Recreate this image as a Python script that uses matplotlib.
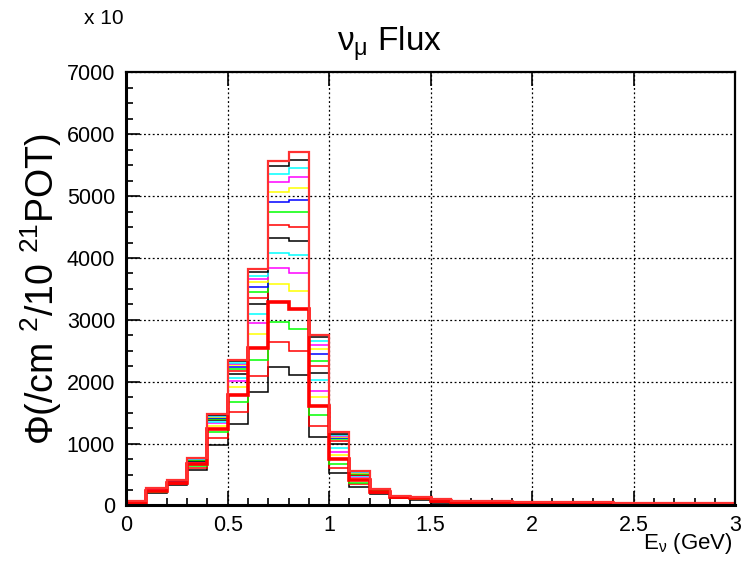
import numpy as np
import matplotlib
matplotlib.use("Agg")
import matplotlib.pyplot as plt
from matplotlib.ticker import MultipleLocator

plt.rcParams['font.family'] = ['Liberation Sans', 'DejaVu Sans']
plt.rcParams['mathtext.fontset'] = 'custom'
plt.rcParams['mathtext.rm'] = 'Liberation Sans'
plt.rcParams['mathtext.it'] = 'Liberation Sans'

# --- data: bin edges (GeV) and flux per bin, 16 curves listed bottom -> top ---
bin_edges = np.round(np.arange(0, 3.01, 0.1), 2)

flux_by_bin = [
    [26, 30, 34, 40, 44, 47, 50, 53, 56, 59, 62, 64, 66, 69, 71, 74],                          # 0.0
    [198, 210, 222, 232, 240, 246, 251, 255, 259, 263, 266, 269, 272, 275, 277, 279],          # 0.1
    [333, 345, 356, 366, 374, 381, 387, 392, 396, 400, 403, 406, 408, 410, 412, 414],          # 0.2
    [575, 610, 640, 665, 685, 700, 712, 722, 730, 737, 743, 748, 752, 756, 760, 764],          # 0.3
    [979, 1097, 1184, 1237, 1286, 1329, 1356, 1375, 1390, 1405, 1418, 1430, 1441, 1452, 1465, 1480],
    [1313, 1507, 1679, 1792, 1921, 2008, 2067, 2126, 2180, 2212, 2244, 2266, 2288, 2309, 2331, 2352],
    [1840, 2095, 2352, 2551, 2772, 2945, 3097, 3252, 3359, 3446, 3536, 3607, 3666, 3714, 3779, 3822],
    [2244, 2638, 2971, 3290, 3580, 3843, 4086, 4323, 4538, 4738, 4910, 5066, 5223, 5352, 5481, 5567],
    [2110, 2503, 2853, 3171, 3472, 3753, 4043, 4280, 4496, 4738, 4932, 5131, 5304, 5459, 5588, 5717],
    [1100, 1280, 1464, 1605, 1746, 1856, 2020, 2140, 2250, 2338, 2455, 2530, 2600, 2664, 2729, 2756],
    [521, 603, 672, 748, 817, 871, 926, 1000, 1044, 1071, 1092, 1103, 1119, 1136, 1157, 1184],
    [306, 340, 370, 414, 441, 460, 475, 490, 500, 510, 520, 528, 536, 545, 555, 564],
    [187, 200, 212, 222, 230, 237, 243, 248, 252, 255, 258, 261, 263, 265, 266, 268],
    [118, 124, 129, 133, 136, 139, 141, 143, 145, 147, 148, 150, 151, 152, 154, 155],
    [90, 100, 108, 114, 119, 123, 127, 130, 133, 135, 137, 139, 140, 142, 143, 144],
    [47, 60, 70, 78, 84, 88, 92, 95, 97, 99, 101, 102, 104, 105, 106, 107],
    [37, 45, 52, 57, 61, 64, 67, 69, 71, 73, 74, 75, 76, 77, 78, 79],
    [37, 45, 51, 56, 60, 63, 66, 68, 70, 72, 73, 74, 75, 76, 78, 79],
    [36, 44, 50, 55, 59, 62, 65, 67, 69, 71, 72, 73, 74, 76, 77, 78],
    [21, 26, 30, 34, 37, 40, 42, 44, 46, 47, 48, 49, 50, 51, 52, 53],
    [21, 26, 30, 34, 37, 40, 42, 44, 46, 47, 48, 49, 50, 51, 52, 53],
    [21, 26, 30, 34, 37, 40, 42, 44, 46, 47, 48, 49, 50, 51, 52, 53],
    [21, 26, 30, 34, 37, 40, 42, 44, 46, 47, 48, 49, 50, 51, 52, 53],
    [20, 25, 29, 33, 36, 39, 41, 43, 45, 46, 47, 48, 49, 50, 51, 52],
    [12, 16, 19, 22, 24, 26, 28, 29, 30, 31, 32, 33, 34, 35, 36, 37],
    [12, 16, 19, 22, 24, 26, 28, 29, 30, 31, 32, 33, 34, 35, 36, 37],
    [12, 16, 19, 22, 24, 26, 28, 29, 30, 31, 32, 33, 34, 35, 36, 37],
    [12, 16, 19, 22, 24, 26, 28, 29, 30, 31, 32, 33, 34, 35, 36, 37],
    [12, 16, 19, 22, 24, 26, 28, 29, 30, 31, 32, 33, 34, 35, 36, 37],
    [12, 16, 19, 22, 24, 26, 28, 29, 30, 31, 32, 33, 34, 35, 36, 37],
]

curve_colors = ['#000000', '#ff0000', '#00ff00', '#ff0000', '#ffff00', '#ff00ff', '#00ffff',
                '#000000', '#ff0000', '#00ff00', '#0000ff', '#ffff00', '#ff00ff', '#00ffff',
                '#000000', '#ff3030']
thick_idx = 3   # highlighted curve
top_idx = 15

flux = np.array(flux_by_bin).T   # rows = curves

# --- figure ---
fig = plt.figure(figsize=(7.42, 5.61), dpi=100)
ax = fig.add_axes([0.170, 0.099, 0.8208, 0.772])

ax.grid(True, which='major', color='black', linestyle=(0, (1.5, 2)), linewidth=0.9)
ax.set_axisbelow(True)

for i, vals in enumerate(flux):
    if i in (thick_idx, top_idx):
        continue
    ax.stairs(vals, bin_edges, color=curve_colors[i], linewidth=1.1, baseline=None)
ax.stairs(flux[thick_idx], bin_edges, color='#ff0000', linewidth=2.6, baseline=None)
ax.stairs(flux[top_idx], bin_edges, color=curve_colors[top_idx], linewidth=1.6, baseline=None)

ax.set_xlim(0, 3)
ax.set_ylim(0, 7000)
ax.xaxis.set_major_locator(MultipleLocator(0.5))
ax.xaxis.set_minor_locator(MultipleLocator(0.1))
ax.yaxis.set_major_locator(MultipleLocator(1000))
ax.yaxis.set_minor_locator(MultipleLocator(250))
ax.xaxis.set_major_formatter(plt.FuncFormatter(lambda v, p: f'{v:g}'))

ax.tick_params(axis='both', which='both', direction='in', colors='black', labelsize=15.5)
ax.tick_params(axis='x', which='major', length=10, width=1.2, top=True, pad=7)
ax.tick_params(axis='x', which='minor', length=5, width=1.2)
ax.tick_params(axis='y', which='major', length=10, width=1.2, pad=8)
ax.tick_params(axis='y', which='minor', length=5, width=1.2)

for side in ('left', 'bottom'):
    ax.spines[side].set_linewidth(2.2)
for side in ('top', 'right'):
    ax.spines[side].set_linewidth(1.6)

ax.set_ylabel('Φ(/cm $^{2}$/10 $^{21}$POT)', fontsize=27, labelpad=2)
fig.text(733 / 742, 1 - 543 / 561, 'E$_{\\nu}$ (GeV)', ha='right', va='center', fontsize=16)
fig.text(390 / 742, 1 - 44 / 561, '$\\nu_{\\mu}$ Flux', ha='center', va='center', fontsize=24)
fig.text(124 / 742, 1 - 18 / 561, 'x 10', ha='right', va='center', fontsize=15)

fig.savefig('out.png', dpi=100)
